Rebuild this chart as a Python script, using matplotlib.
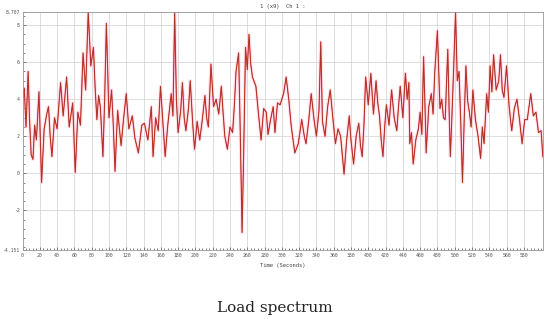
import matplotlib.pyplot as plt
from matplotlib.ticker import MultipleLocator

# time (s) and load values
time_s = [0, 2, 4, 6.5, 8, 10, 12, 14, 16, 19, 22, 25, 28, 30, 32, 34, 37, 40, 44, 47,
          51, 54, 58, 61, 64, 67, 70, 73, 76, 79, 82, 84, 86, 88, 90, 93, 95, 97, 100, 103,
          105, 107, 110, 114, 117, 120, 123, 127, 130, 134, 138, 141, 145, 149, 151, 154, 157, 159.6, 162, 165,
          168, 172, 174, 176, 178, 180, 183, 185, 187, 189, 192, 194, 197, 199, 202, 205, 208, 211, 213, 215,
          218, 221, 224, 227, 230, 232, 234, 237, 240, 243, 245, 247, 250, 252, 254, 256, 258, 260, 262, 264,
          266, 270, 273, 276, 279, 282, 284, 287, 290, 292, 295, 298, 302, 305, 308, 311, 313, 315, 319, 323,
          326, 328, 331, 334, 337, 340, 343, 345, 347, 350, 353, 356, 359, 362, 365, 368, 370, 372, 375, 378,
          380, 383, 386, 389, 391, 393, 395, 397, 400, 403, 406, 409, 411, 413, 415, 417, 419, 421, 424, 427,
          430, 433, 435, 437, 440, 443, 445, 447, 448, 450, 452, 455, 458, 460, 462, 464, 466, 467, 470, 473,
          475, 477, 480, 483, 485, 487, 489, 492, 494, 495, 498, 501, 503, 505, 507, 509, 511, 513, 515, 517,
          519, 521, 524, 527, 530, 532, 534, 537, 539, 541, 543, 545, 548, 551, 553, 555, 557, 560, 563, 566,
          569, 572, 575, 578, 581, 584, 586, 588, 591, 594, 597, 600, 602]
load = [4.0, 4.6, 2.5, 5.5, 3.0, 1.0, 0.75, 2.6, 1.8, 4.4, -0.5, 2.4, 3.2, 3.6, 2.0, 0.9, 3.0, 2.4, 4.9, 3.1,
        5.2, 2.5, 3.8, 0.05, 3.3, 2.6, 6.5, 4.5, 8.7, 5.8, 6.8, 4.6, 2.9, 4.2, 3.6, 0.9, 4.0, 8.1, 3.0, 4.5,
        2.6, 0.1, 3.4, 1.5, 3.0, 4.3, 2.4, 3.1, 1.9, 1.1, 2.6, 2.7, 1.8, 3.6, 0.9, 3.0, 2.3, 4.7, 3.0, 0.9,
        2.6, 4.3, 3.1, 8.7, 4.0, 2.2, 3.4, 4.9, 3.0, 2.3, 3.5, 5.0, 2.6, 1.3, 2.8, 1.8, 2.9, 4.2, 3.0, 2.5,
        5.9, 3.6, 4.0, 3.2, 4.7, 3.3, 2.0, 1.3, 2.5, 2.2, 3.6, 5.5, 6.5, 2.0, -3.2, 1.5, 6.8, 5.6, 7.5, 5.9,
        5.2, 4.7, 3.2, 1.8, 3.5, 3.3, 2.1, 2.9, 3.6, 2.2, 3.8, 3.7, 4.3, 5.2, 4.0, 2.5, 1.8, 1.1, 1.6, 2.9,
        2.0, 1.6, 2.8, 4.3, 3.0, 2.0, 3.4, 7.1, 2.8, 2.0, 3.6, 4.5, 3.0, 1.6, 2.4, 2.0, 1.0, -0.05, 1.8, 3.1,
        1.8, 0.5, 2.0, 2.7, 1.5, 0.9, 2.6, 5.2, 3.7, 5.4, 3.2, 5.0, 3.8, 3.1, 1.8, 0.9, 2.5, 3.7, 2.6, 4.5,
        3.0, 2.3, 3.6, 4.7, 3.0, 5.4, 4.0, 4.9, 1.6, 2.2, 0.5, 1.8, 2.4, 3.3, 2.1, 6.3, 3.0, 1.1, 3.6, 4.3,
        3.2, 5.5, 7.7, 3.5, 4.0, 3.0, 2.9, 6.7, 2.5, 0.9, 4.6, 8.7, 5.0, 5.5, 2.8, -0.5, 2.9, 5.8, 3.9, 3.3,
        2.5, 4.5, 2.9, 2.0, 0.8, 2.5, 1.6, 4.3, 3.3, 5.8, 4.4, 6.4, 4.5, 5.0, 6.4, 4.5, 4.1, 5.8, 3.6, 2.3,
        3.5, 4.0, 2.9, 1.6, 2.9, 2.9, 3.6, 4.3, 3.1, 3.3, 2.2, 2.3, 0.9]

y_ticks = [-4.151, -2, 0, 2, 4, 6, 8, 8.707]
y_labels = ["-4.151", "-2", "0", "2", "4", "6", "8", "8.707"]
x_ticks = list(range(0, 600, 20))

fig = plt.figure(figsize=(5.5, 3.19), dpi=100)
ax = fig.add_axes([0.041, 0.216, 0.946, 0.746])

ax.plot(time_s, load, color='#ffc8dc', lw=2.5, alpha=0.5)
ax.plot(time_s, load, color='#e8242a', lw=0.8)
ax.plot(time_s, load, color='#6e4a26', lw=0.4, alpha=0.7)

ax.set_xlim(0, 602)
ax.set_ylim(-4.151, 8.707)
ax.set_xticks(x_ticks)
ax.set_xticklabels([str(v) for v in x_ticks])
ax.xaxis.set_minor_locator(MultipleLocator(4))
ax.set_yticks(y_ticks)
ax.set_yticklabels(y_labels)
ax.yaxis.set_minor_locator(MultipleLocator(0.5))

ax.grid(True, which='major', color='#d8d8d8', lw=0.6)
ax.tick_params(which='both', direction='in', labelsize=3.5, colors='#555555',
               length=2.5, width=0.5, pad=2)
ax.tick_params(which='minor', length=1.5)
for lab in ax.get_xticklabels() + ax.get_yticklabels():
    lab.set_family('DejaVu Sans Mono')
for sp in ax.spines.values():
    sp.set_color('#999999')
    sp.set_linewidth(0.6)

ax.set_title('1 (x9)  Ch 1 :', fontsize=4, family='DejaVu Sans Mono', color='#444444', pad=3)
ax.set_xlabel('Time (Seconds)', fontsize=4, family='DejaVu Sans Mono', color='#444444', labelpad=4)

fig.text(0.5, 0.035, 'Load spectrum', ha='center', va='center', fontsize=11,
         family='DejaVu Serif', color='#222222')

fig.savefig('out.png', dpi=100)
